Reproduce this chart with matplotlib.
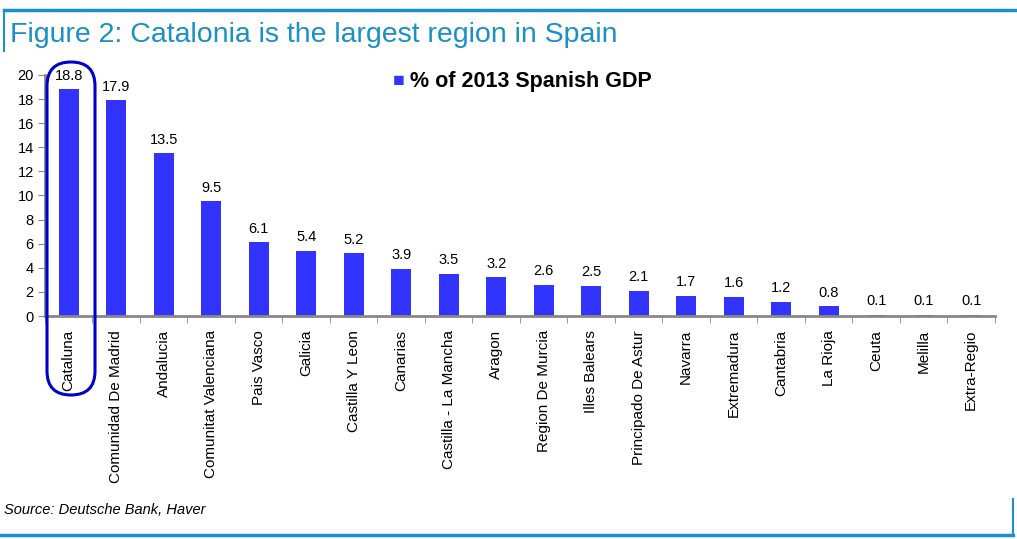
import matplotlib.pyplot as plt
from matplotlib.patches import FancyBboxPatch
from matplotlib.lines import Line2D
from matplotlib.transforms import IdentityTransform
import numpy as np

plt.rcParams['font.family'] = ['Liberation Sans', 'DejaVu Sans']

regions = ['Cataluna', 'Comunidad De Madrid', 'Andalucia', 'Comunitat Valenciana',
           'Pais Vasco', 'Galicia', 'Castilla Y Leon', 'Canarias',
           'Castilla - La Mancha', 'Aragon', 'Region De Murcia', 'Illes Balears',
           'Principado De Astur', 'Navarra', 'Extremadura', 'Cantabria',
           'La Rioja', 'Ceuta', 'Melilla', 'Extra-Regio']
gdp_share = [18.8, 17.9, 13.5, 9.5, 6.1, 5.4, 5.2, 3.9, 3.5, 3.2,
             2.6, 2.5, 2.1, 1.7, 1.6, 1.2, 0.8, 0.1, 0.1, 0.1]

BAR = '#3333ff'
FRAME = '#1a8fc8'
AXIS = '#888888'

fig = plt.figure(figsize=(10.17, 5.39), dpi=100)
ax = fig.add_axes([0.0442, 0.4137, 0.934, 0.4473])

x = np.arange(len(regions))
ax.bar(x, gdp_share, width=0.42, color=BAR)
for xi, v in zip(x, gdp_share):
    ax.text(xi, v + 0.55, f'{v:.1f}', ha='center', va='bottom', fontsize=10.5)

ax.set_xlim(-0.5, len(regions) - 0.5)
ax.set_ylim(0, 20)
ax.set_yticks(range(0, 21, 2))
ax.set_xticks(x)
ax.set_xticklabels(regions, rotation=90, fontsize=11)
ax.set_xticks(np.arange(-0.5, len(regions)), minor=True)
ax.tick_params(axis='x', which='major', length=0, pad=10)
ax.tick_params(axis='x', which='minor', length=5, color=AXIS, direction='out')
ax.tick_params(axis='y', length=5, color=AXIS, labelsize=10.5, pad=3)
for s in ['top', 'right']:
    ax.spines[s].set_visible(False)
for s in ['left', 'bottom']:
    ax.spines[s].set_color(AXIS)
    ax.spines[s].set_linewidth(2)

# highlight around Cataluna (pixel coordinates, origin bottom-left)
hl = FancyBboxPatch((47, 539 - 395), 48, 333,
                    boxstyle='round,pad=0,rounding_size=24',
                    transform=IdentityTransform(), fill=False,
                    edgecolor='#0000cc', linewidth=2.2)
fig.add_artist(hl)

# legend
fig.text(0.386, 0.848, '\u25a0', color=BAR, fontsize=14, va='center')
fig.text(0.403, 0.848, '% of 2013 Spanish GDP', fontsize=15.5, fontweight='bold',
         va='center')

# title and frame
fig.text(0.010, 0.935, 'Figure 2: Catalonia is the largest region in Spain',
         color=FRAME, fontsize=20.5, va='center')
fig.add_artist(Line2D([0.004, 1.0], [0.982, 0.982], color=FRAME, lw=2.5))
fig.add_artist(Line2D([0.004, 0.004], [0.982, 0.905], color=FRAME, lw=1.5))
fig.add_artist(Line2D([0.0, 0.996], [0.008, 0.008], color=FRAME, lw=2.5))
fig.add_artist(Line2D([0.996, 0.996], [0.008, 0.075], color=FRAME, lw=1.5))

fig.text(0.004, 0.053, 'Source: Deutsche Bank, Haver', fontsize=10.5,
         style='italic', va='center')

fig.savefig('out.png', dpi=100)
